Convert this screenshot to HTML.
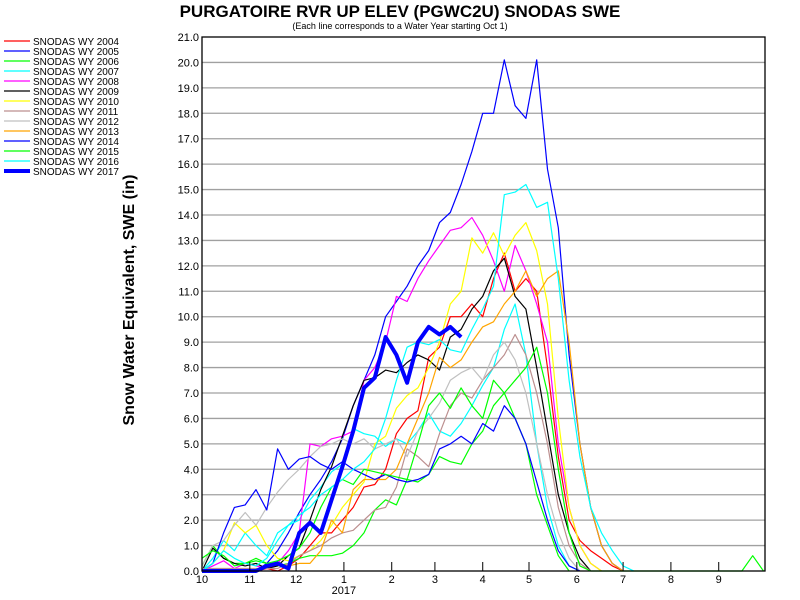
<!DOCTYPE html>
<html><head><meta charset="utf-8"><style>
body{margin:0;background:#fff;}
svg{display:block;font-family:"Liberation Sans",sans-serif;}
</style></head><body>
<svg id="chart" width="800" height="600" viewBox="0 0 800 600">
<text x="400" y="17" text-anchor="middle" font-size="17" font-weight="bold">PURGATOIRE RVR UP ELEV (PGWC2U) SNODAS SWE</text>
<text x="400" y="29" text-anchor="middle" font-size="9">(Each line corresponds to a Water Year starting Oct 1)</text>
<text transform="translate(134,300) rotate(-90)" text-anchor="middle" font-size="16" font-weight="bold">Snow Water Equivalent, SWE (in)</text>
<g id="grid"></g><g id="series"></g><g id="axes"></g><g id="legend"></g>
</svg>
<script>
const years = ["2004","2005","2006","2007","2008","2009","2010","2011","2012","2013","2014","2015","2016","2017"];
const colors = ["#ff0000","#0000ff","#00ff00","#00ffff","#ff00ff","#000000","#ffff00","#bc8f8f","#c0c0c0","#ffa500","#0000ff","#00ff00","#00ffff","#0000ff"];
const yTicks = [0,1,2,3,4,5,6,7,8,9,10,11,12,13,14,15,16,17,18,19,20,21];
const monthLabels = ["10","11","12","1","2","3","4","5","6","7","8","9"];
const monthDays = [0,31,61,92,123,151,182,212,243,273,304,335];
// weekly SWE values (week 0 = Oct 1)
const wy2004 = [0,0,0,0,0,0,0.1,0,0.2,0.5,1.0,1.5,1.5,2.0,2.5,3.3,3.4,4.0,5.4,6.0,6.3,8.4,8.8,10.0,10.0,10.5,10.0,11.5,12.5,11.0,11.5,11.0,8.0,4.5,2.0,1.2,0.8,0.5,0.2,0];
const wy2005 = [0,0,0,0,0,0,0.3,0.8,1.5,2.3,3.0,3.6,4.3,5.2,6.5,7.5,8.5,10.0,10.6,11.2,12.0,12.6,13.7,14.1,15.2,16.5,18.0,18.0,20.1,18.3,17.8,20.1,15.8,13.5,8.5,5.0,2.5,1.0,0.3,0];
const wy2006 = [0.2,1.0,0.5,0.3,0.3,0.4,0.3,0.2,0.3,0.5,0.6,0.6,0.6,0.7,1.0,1.5,2.4,2.8,2.6,3.6,3.5,3.8,4.5,4.3,4.2,5.0,5.5,6.5,7.0,6.0,5.0,3.0,1.8,0.6,0];
const wy2007 = [0,0.5,1.2,0.8,1.5,1.0,0.6,1.5,1.8,2.0,2.8,3.3,3.9,4.2,5.6,5.4,5.3,4.9,5.2,5.0,5.5,6.2,5.5,5.3,5.8,6.5,7.3,8.0,9.5,10.5,8.5,5.0,2.5,1.0,0.2,0];
const wy2008 = [0,0.2,0.4,0.1,0.3,0.2,0.1,0.3,0.8,1.5,5.0,4.9,5.2,5.3,5.5,7.5,8.0,9.0,10.8,10.6,11.5,12.2,12.8,13.4,13.5,13.9,13.2,12.2,11.0,12.8,11.8,10.5,9.0,5.0,2.5,1.0,0.3,0];
const wy2009 = [0,0.9,0.5,0.3,0.2,0.3,0.1,0.2,0.6,0.9,2.0,3.2,4.1,5.3,6.5,7.5,7.6,7.9,7.8,8.2,8.5,8.3,7.9,9.2,9.5,10.3,10.8,11.8,12.3,10.8,10.3,8.0,5.5,3.0,1.5,0.5,0];
const wy2010 = [0,0.3,0.8,1.9,1.5,1.8,1.0,0.5,0.4,0.6,0.8,1.2,1.8,2.5,3.0,3.5,5.0,5.3,6.4,6.9,7.2,8.0,9.0,10.5,11.0,13.1,12.5,13.3,12.4,13.2,13.7,12.6,10.5,6.0,2.5,1.0,0.3,0];
const wy2011 = [0.1,0.1,0.1,0.1,0.1,0.1,0.1,0.1,0.3,0.6,0.8,1.0,1.3,1.5,1.6,2.0,2.4,2.5,3.3,4.8,4.5,4.1,5.4,6.5,7.0,6.8,7.5,8.0,8.5,9.3,8.5,7.0,5.0,2.5,1.0,0.3,0];
const wy2012 = [0.2,1.0,1.2,1.8,2.3,1.8,2.5,3.1,3.6,4.0,4.5,4.9,5.0,5.2,5.0,5.2,4.8,5.0,5.2,4.5,5.5,6.0,6.6,7.5,7.8,8.0,7.5,8.5,9.0,8.3,7.0,5.0,3.0,1.5,0.5,0];
const wy2013 = [0,0,0,0,0,0,0.2,0.3,0.2,0.3,0.3,0.8,2.0,1.5,3.2,3.6,3.6,3.6,4.0,5.0,6.0,7.0,8.4,8.0,8.3,9.0,9.6,9.8,10.5,11.0,11.8,10.8,11.5,11.8,9.0,5.0,2.5,1.0,0.3,0];
const wy2014 = [0,0.3,1.5,2.5,2.6,3.2,2.4,4.8,4.0,4.4,4.5,4.2,4.0,4.3,4.0,3.8,3.6,3.8,3.6,3.5,3.6,3.8,4.8,5.0,5.3,5.0,5.8,5.5,6.5,6.0,5.0,3.5,2.0,0.8,0.2,0];
const wy2015 = [0.5,0.8,0.6,0.2,0.3,0.5,0.3,0.4,0.6,0.9,1.5,2.5,3.3,3.6,3.4,4.0,3.9,3.8,3.7,3.6,5.0,6.5,7.0,6.4,7.2,6.5,6.0,7.5,7.0,7.5,8.0,8.8,7.0,4.0,1.5,0.2,0,0,0,0,0,0,0,0,0,0,0,0,0,0,0,0.6,0];
const wy2016 = [0,0.3,0.8,0.5,0.3,0.2,0.5,1.2,1.8,2.2,2.5,3.0,3.3,3.6,4.0,4.3,4.8,6.0,7.5,8.8,9.0,8.9,9.1,8.7,8.6,9.5,10.3,11.2,14.8,14.9,15.2,14.3,14.5,11.5,7.5,4.5,2.5,1.5,0.8,0.2,0];
const wy2017 = [0,0,0,0,0,0,0.2,0.3,0.1,1.5,1.9,1.5,2.8,4.1,5.5,7.2,7.6,9.2,8.5,7.4,9.0,9.6,9.3,9.6,9.2];
const allSeries = [wy2004,wy2005,wy2006,wy2007,wy2008,wy2009,wy2010,wy2011,wy2012,wy2013,wy2014,wy2015,wy2016,wy2017];

const NS = "http://www.w3.org/2000/svg";
const X0 = 202, X1 = 765, Y0 = 571, Y1 = 37;
function xScale(day){ return X0 + day * (X1 - X0) / 365; }
function yScale(v){ return Y0 - v * (Y0 - Y1) / 21; }
function mk(tag, attrs, parent){ const e = document.createElementNS(NS, tag); for (const k in attrs) e.setAttribute(k, attrs[k]); parent.appendChild(e); return e; }

const grid = document.getElementById("grid");
const axes = document.getElementById("axes");
yTicks.forEach(function(t){
  const y = yScale(t);
  if (t > 0 && t < 21) {
    const gl = mk("line", {x1:X0, x2:X1, y1:y, y2:y, stroke:"#a0a0a0", "stroke-width":1.3}, grid);
    
    
  }
  const lb = mk("text", {x:X0-3, y:y+4, "text-anchor":"end", "font-size":11}, axes);
  lb.textContent = t.toFixed(1);
  
  
});
const frame = mk("rect", {x:X0, y:Y1, width:X1-X0, height:Y0-Y1, fill:"none", stroke:"#000", "stroke-width":1.3}, axes);


monthLabels.forEach(function(m, i){
  const x = xScale(monthDays[i]);
  const tk = mk("line", {x1:x, x2:x, y1:Y0, y2:Y0-9, stroke:"#000", "stroke-width":1}, axes);
  
  
  const lb = mk("text", {x:x, y:583, "text-anchor":"middle", "font-size":11}, axes);
  lb.textContent = m;
  
  
});
const yr = mk("text", {x:xScale(92), y:594, "text-anchor":"middle", "font-size":11}, axes);
yr.textContent = "2017";



const sg = document.getElementById("series");
allSeries.forEach(function(vals, i){
  const pts = vals.map(function(v, w){ return xScale(w*7).toFixed(1) + "," + yScale(v).toFixed(1); }).join(" ");
  const pl = mk("polyline", {points:pts, fill:"none", stroke:colors[i], "stroke-width": i === 13 ? 4 : 1.2, "stroke-linejoin":"round"}, sg);
  
  
});

const lg = document.getElementById("legend");
years.forEach(function(y, i){
  const yy = 41 + i * 10;
  const ln = mk("line", {x1:4, x2:30, y1:yy, y2:yy, stroke:colors[i], "stroke-width": i === 13 ? 4 : 1.2}, lg);
  
  
  const tx = mk("text", {x:33, y:yy+4, "font-size":10}, lg);
  tx.textContent = "SNODAS WY " + y;
  
  
});
</script>
</body></html>
